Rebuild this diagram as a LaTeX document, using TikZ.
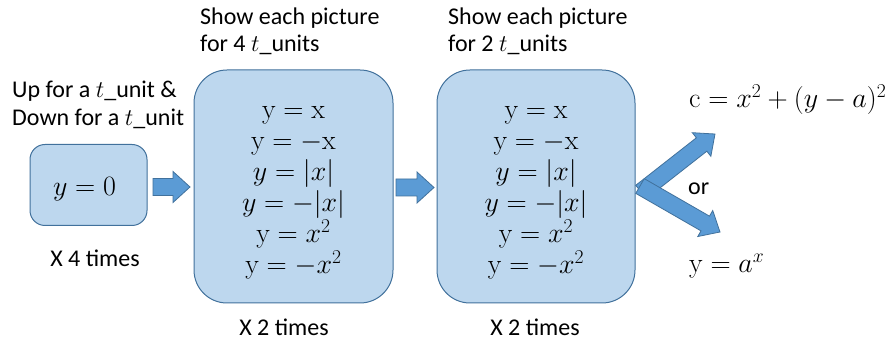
\RequirePackage{fix-cm}
\documentclass[tikz,border=0pt]{standalone}
\usepackage[no-math]{fontspec}
\setmainfont{Carlito}
\usetikzlibrary{calc}
\definecolor{boxfill}{HTML}{BDD7EE}
\definecolor{boxline}{HTML}{41719C}
\definecolor{arrfill}{HTML}{5B9BD5}
\newcommand\mathfs{\fontsize{28}{31}\selectfont}
\newcommand\txtfs{\fontsize{24}{27}\selectfont}
\tikzset{
  box/.style={draw=boxline, fill=boxfill, line width=1pt, align=center, inner sep=0pt, font=\mathfs},
  lbl/.style={font=\txtfs, inner sep=0pt, anchor=base west},
  clbl/.style={font=\txtfs, inner sep=0pt, anchor=base},
  mlbl/.style={font=\mathfs, inner sep=0pt, anchor=base west},
  barrow/.style={draw=boxline, fill=arrfill, line width=0.8pt, line join=miter},
}
% block arrow: from, to, half shaft width, half head width, head length
\newcommand\blockarrow[5]{%
  \draw[barrow] let \p1=(#1), \p2=(#2),
     \n1={atan2(\y2-\y1,\x2-\x1)}, \n2={veclen(\x2-\x1,\y2-\y1)} in
     [shift={(\p1)}, rotate=\n1]
     (0pt,#3) -- ({\n2-#5},#3) -- ({\n2-#5},#4) -- ({\n2+0pt},0pt)
     -- ({\n2-#5},-#4) -- ({\n2-#5},-#3) -- (0pt,-#3) -- cycle;}
\newcommand\topstrut{\rule{0pt}{25pt}}
\begin{document}
\begin{tikzpicture}[x=1pt,y=-1pt]
\useasboundingbox[fill=white] (0,0) rectangle (896,344);

% boxes
\node[box, minimum width=117pt, minimum height=81pt, rounded corners=15pt] (box1) at (88.5,185) {\rule{0pt}{26pt}$y=0$\hspace{8pt}};
\node[box, minimum width=199pt, minimum height=233pt, rounded corners=33pt] (box2) at (293.5,186.5)
  {\topstrut$\mathrm{y}=\mathrm{x}$\\ $\mathrm{y}=-\mathrm{x}$\\ $y=|x|$\\ $y=-|x|$\\ $\mathrm{y}=x^2$\\ $\mathrm{y}=-x^2$};
\node[box, minimum width=198pt, minimum height=233pt, rounded corners=33pt] (box3) at (536,186.5)
  {\topstrut$\mathrm{y}=\mathrm{x}$\\ $\mathrm{y}=-\mathrm{x}$\\ $y=|x|$\\ $y=-|x|$\\ $\mathrm{y}=x^2$\\ $\mathrm{y}=-x^2$};

% labels
\node[lbl] (u1) at (12,98) {Up for a $t$\_unit \&};
\node[lbl] (u2) at (12,126) {Down for a $t$\_unit};
\node[clbl] (x4) at (95,267) {X 4 times};
\node[lbl] (s1) at (200,25) {Show each picture};
\node[lbl] (s2) at (200,52) {for 4 $t$\_units};
\node[lbl] (s3) at (448,25) {Show each picture};
\node[lbl] (s4) at (448,52) {for 2 $t$\_units};
\node[clbl] (x2a) at (284,335) {X 2 times};
\node[clbl] (x2b) at (535,335) {X 2 times};
\node[font=\txtfs, inner sep=0pt, anchor=west] (or) at (688,189) {or};
\node[mlbl] (f1) at (689,108) {$\mathrm{c}=x^2+(y-a)^2$};
\node[mlbl] (f2) at (689,273) {$\mathrm{y}=a^x$};

% arrow end points
\coordinate (a1s) at (153,187);
\coordinate (a1e) at (190,187);
\coordinate (a2s) at (396,187.5);
\coordinate (a2e) at (434,187.5);
\coordinate (vt0) at (641,192);
\coordinate (vt) at (715,134);
\coordinate (vb0) at (640,186);
\coordinate (vb) at (720,232);

\blockarrow{a1s}{a1e}{8.5pt}{15.5pt}{17pt}
\blockarrow{a2s}{a2e}{8.5pt}{15.5pt}{17pt}
\blockarrow{vt0}{vt}{8.5pt}{15pt}{17pt}
\blockarrow{vb0}{vb}{8.5pt}{15pt}{17pt}
\end{tikzpicture}
\end{document}
